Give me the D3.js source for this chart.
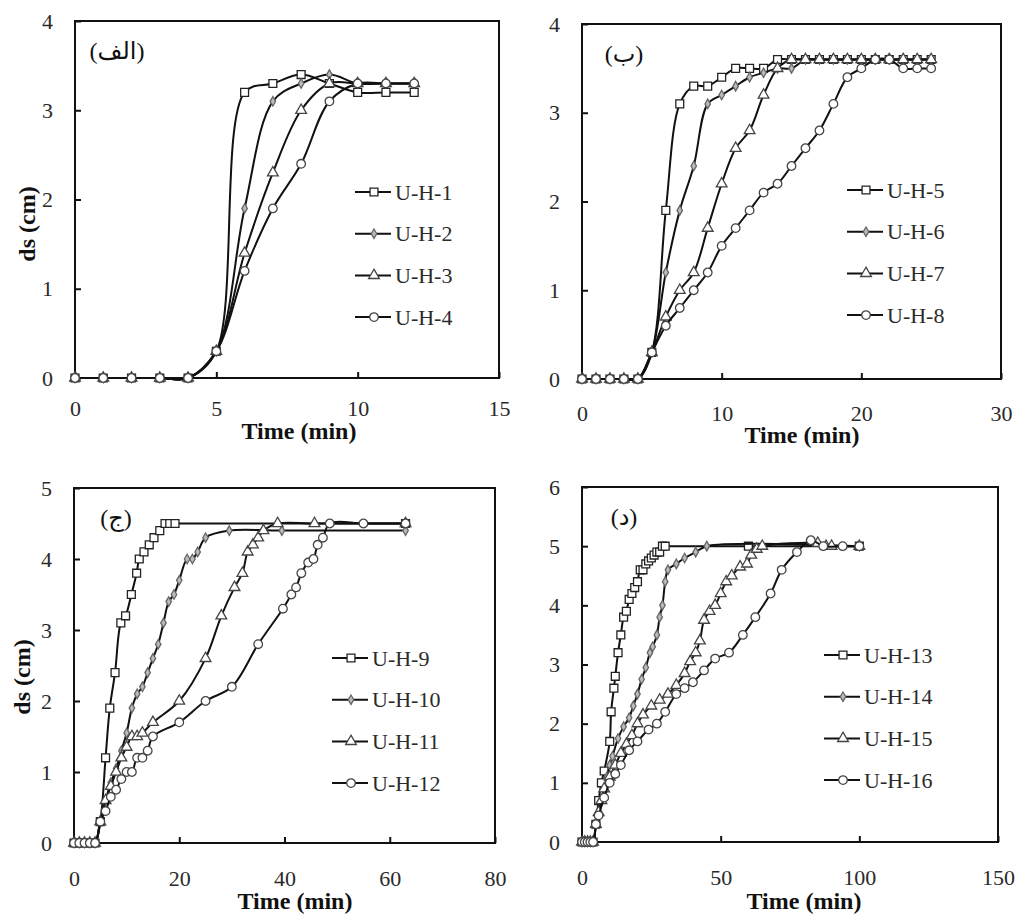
<!DOCTYPE html>
<html>
<head>
<meta charset="utf-8">
<script src="https://cdn.jsdelivr.net/npm/d3@7"></script>
<style>
  body { margin: 0; background: #fff; }
  svg { display: block; }
</style>
</head>
<body>
<svg id="chart" width="1019" height="915"></svg>
<script>
// ---- data ----
const panelLabels = ["(الف)", "(ب)", "(ج)", "(د)"];
const seriesNames = [
  ["U-H-1", "U-H-2", "U-H-3", "U-H-4"],
  ["U-H-5", "U-H-6", "U-H-7", "U-H-8"],
  ["U-H-9", "U-H-10", "U-H-11", "U-H-12"],
  ["U-H-13", "U-H-14", "U-H-15", "U-H-16"]
];
const xTicks = [[0, 5, 10, 15], [0, 10, 20, 30], [0, 20, 40, 60, 80], [0, 50, 100, 150]];
const yTicks = [[0, 1, 2, 3, 4], [0, 1, 2, 3, 4], [0, 1, 2, 3, 4, 5], [0, 1, 2, 3, 4, 5, 6]];

// panel (الف): time 0..12 min
const timeA = [0, 1, 2, 3, 4, 5, 6, 7, 8, 9, 10, 11, 12];
const uh1 = [0, 0, 0, 0, 0, 0.3, 3.2, 3.3, 3.4, 3.3, 3.2, 3.2, 3.2];
const uh2 = [0, 0, 0, 0, 0, 0.3, 1.9, 3.1, 3.3, 3.4, 3.3, 3.3, 3.3];
const uh3 = [0, 0, 0, 0, 0, 0.3, 1.4, 2.3, 3.0, 3.3, 3.3, 3.3, 3.3];
const uh4 = [0, 0, 0, 0, 0, 0.3, 1.2, 1.9, 2.4, 3.1, 3.3, 3.3, 3.3];

// panel (ب): time 0..25 min
const timeB = d3.range(0, 26);
const uh5 = [0, 0, 0, 0, 0, 0.3, 1.9, 3.1, 3.3, 3.3, 3.4, 3.5, 3.5, 3.5, 3.6, 3.6, 3.6, 3.6, 3.6, 3.6, 3.6, 3.6, 3.6, 3.6, 3.6, 3.6];
const uh6 = [0, 0, 0, 0, 0, 0.3, 1.2, 1.9, 2.4, 3.1, 3.2, 3.3, 3.4, 3.45, 3.5, 3.5, 3.6, 3.6, 3.6, 3.6, 3.6, 3.6, 3.6, 3.6, 3.6, 3.6];
const uh7 = [0, 0, 0, 0, 0, 0.3, 0.7, 1.0, 1.2, 1.7, 2.2, 2.6, 2.8, 3.2, 3.5, 3.6, 3.6, 3.6, 3.6, 3.6, 3.6, 3.6, 3.6, 3.6, 3.6, 3.6];
const uh8 = [0, 0, 0, 0, 0, 0.3, 0.6, 0.8, 1.0, 1.2, 1.5, 1.7, 1.9, 2.1, 2.2, 2.4, 2.6, 2.8, 3.1, 3.4, 3.5, 3.6, 3.6, 3.5, 3.5, 3.5];

// panel (ج): [time, ds]
const uh9 = [[0, 0], [1, 0], [2, 0], [3, 0], [4, 0], [5, 0.3], [6, 1.2], [6.8, 1.9], [7.8, 2.4], [8.9, 3.1], [9.8, 3.2],
  [10.9, 3.5], [11.9, 3.8], [12.4, 4.0], [13.3, 4.1], [14.3, 4.2], [15.2, 4.3], [16.3, 4.4], [17.3, 4.5], [18.2, 4.5], [19.2, 4.5], [63, 4.5]];
const uh10 = [[0, 0], [1, 0], [2, 0], [3, 0], [4, 0], [5, 0.3], [6, 0.6], [7, 0.85], [8, 1.05], [9, 1.3], [10, 1.55], [11, 1.9],
  [12, 2.1], [13, 2.2], [14, 2.4], [15, 2.6], [16, 2.8], [17, 3.1], [18, 3.4], [19, 3.5], [20, 3.7], [21.5, 4.0], [22.5, 4.0],
  [23.5, 4.1], [25, 4.3], [29.5, 4.4], [39.5, 4.4], [63, 4.4]];
const uh11 = [[0, 0], [1, 0], [2, 0], [3, 0], [4, 0], [5, 0.3], [6, 0.6], [7, 0.8], [8, 1.0], [9, 1.2], [10, 1.35], [11, 1.5],
  [12, 1.5], [13, 1.55], [15, 1.7], [20, 2.0], [25, 2.6], [28, 3.2], [30.5, 3.6], [32, 3.8], [33, 4.1], [34, 4.2], [35, 4.3],
  [36, 4.4], [38.7, 4.5], [45.7, 4.5], [63, 4.5]];
const uh12 = [[0, 0], [1, 0], [2, 0], [3, 0], [4, 0], [5, 0.3], [6, 0.45], [7, 0.65], [8, 0.75], [9, 0.9], [10, 1.0], [11, 1.0],
  [12, 1.2], [13, 1.2], [14, 1.3], [15, 1.5], [20, 1.7], [25, 2.0], [30, 2.2], [35, 2.8], [39.7, 3.3], [41.3, 3.5], [42.2, 3.6],
  [43.2, 3.8], [44.5, 3.95], [45.5, 4.0], [46.3, 4.2], [47.3, 4.3], [48.6, 4.5], [55, 4.5], [63, 4.5]];

// panel (د): [time, ds]
const uh13 = [[0, 0], [1, 0], [2, 0], [3, 0], [4, 0], [5, 0.3], [6, 0.7], [7, 1.0], [8, 1.2], [10, 1.7], [10.5, 2.2], [11.5, 2.6],
  [12, 2.8], [13, 3.2], [14, 3.5], [15, 3.8], [16, 3.9], [17, 4.1], [18, 4.2], [19, 4.3], [20, 4.4], [21, 4.6], [22, 4.6],
  [23, 4.7], [24, 4.75], [25, 4.8], [26, 4.85], [27, 4.9], [28, 4.9], [29, 5.0], [30, 5.0], [60, 5.0], [100, 5.0]];
const uh14 = [[0, 0], [1, 0], [2, 0], [3, 0], [4, 0], [5, 0.3], [6, 0.5], [7, 0.7], [8, 0.9], [9, 1.1], [10, 1.3], [11, 1.45],
  [13, 1.75], [15, 1.95], [17, 2.1], [18.5, 2.3], [20, 2.5], [21.5, 2.75], [23, 2.95], [24.5, 3.2], [25.5, 3.3], [27, 3.5],
  [28, 3.8], [29, 4.0], [30, 4.4], [31, 4.6], [34, 4.7], [37, 4.8], [41, 4.9], [45, 5.0], [100, 5.0]];
const uh15 = [[0, 0], [1, 0], [2, 0], [3, 0], [4, 0], [5, 0.3], [6, 0.5], [7, 0.7], [8, 0.9], [10, 1.1], [12, 1.3], [14, 1.5],
  [16, 1.65], [18, 1.8], [20, 2.0], [22, 2.15], [25, 2.3], [28, 2.4], [31, 2.5], [34, 2.65], [37, 2.85], [39, 3.05], [41, 3.2],
  [42.5, 3.4], [44, 3.75], [46, 3.9], [48, 4.0], [50, 4.2], [52, 4.4], [54, 4.5], [57, 4.65], [59.5, 4.7], [61, 4.85],
  [63, 4.95], [65, 5.0], [85, 5.05], [88, 5.0], [90, 5.0], [100, 5.0]];
const uh16 = [[0, 0], [1, 0], [2, 0], [3, 0], [4, 0], [5, 0.3], [6, 0.45], [8, 0.75], [10, 1.0], [12, 1.15], [14, 1.3], [17, 1.55],
  [20, 1.7], [24, 1.9], [27, 2.0], [30, 2.2], [34, 2.5], [37, 2.6], [40, 2.7], [44, 2.9], [48, 3.1], [53, 3.2], [58, 3.5],
  [62.5, 3.8], [68, 4.2], [72, 4.6], [77.5, 4.9], [82.5, 5.1], [87, 5.0], [94, 5.0], [100, 5.0]];

const zipT = (t, v) => t.map((d, i) => [d, v[i]]);
const panelSeries = [
  [zipT(timeA, uh1), zipT(timeA, uh2), zipT(timeA, uh3), zipT(timeA, uh4)],
  [zipT(timeB, uh5), zipT(timeB, uh6), zipT(timeB, uh7), zipT(timeB, uh8)],
  [uh9, uh10, uh11, uh12],
  [uh13, uh14, uh15, uh16]
];

// ---- layout ----
const layout = [
  { left: 75, right: 499, top: 21, bottom: 378, xPad: 22, yLab: [27, 224], tLab: [299, 431], leg: [355, 192] },
  { left: 582, right: 1001, top: 24, bottom: 379, xPad: 26, yLab: null, tLab: [802, 435], leg: [847, 190] },
  { left: 74, right: 495, top: 488, bottom: 843, xPad: 27, yLab: [22, 677], tLab: [295, 901], leg: [332, 658] },
  { left: 582, right: 998, top: 487, bottom: 842, xPad: 27, yLab: null, tLab: [804, 901], leg: [824, 655] }
];

const shapes = [d3.symbolSquare, d3.symbolDiamond, d3.symbolTriangle, d3.symbolCircle];
const shapeSize = [62, 26, 50, 58];
const shapeFill = ["#fff", "#bbb", "#fff", "#fff"];
const shapeStroke = ["#222", "#666", "#444", "#444"];
const serif = "'Liberation Serif', 'Times New Roman', serif";

const svg = d3.select("#chart");
svg.append("rect").attr("width", 1019).attr("height", 915).attr("fill", "#fff");

layout.forEach((L, p) => {
  const xMax = xTicks[p][xTicks[p].length - 1];
  const yMax = yTicks[p][yTicks[p].length - 1];
  const x = d3.scaleLinear().domain([0, xMax]).range([L.left, L.right]);
  const y = d3.scaleLinear().domain([0, yMax]).range([L.bottom, L.top]);
  const g = svg.append("g");

  // axes, ticks pointing inside
  const xa = g.append("g")
    .attr("transform", `translate(0,${L.bottom})`)
    .call(d3.axisBottom(x).tickValues(xTicks[p]).tickFormat(d3.format("d"))
      .tickSizeInner(-6).tickSizeOuter(0).tickPadding(L.xPad));
  const ya = g.append("g")
    .attr("transform", `translate(${L.left},0)`)
    .call(d3.axisLeft(y).tickValues(yTicks[p]).tickFormat(d3.format("d"))
      .tickSizeInner(-6).tickSizeOuter(0).tickPadding(22));
  [xa, ya].forEach(a => {
    a.select(".domain").remove();
    a.selectAll("line").attr("stroke", "#111").attr("stroke-width", 2);
    a.selectAll("text").attr("font-family", serif).attr("font-size", 22).attr("fill", "#2a2a2a");
  });

  // frame
  g.append("rect")
    .attr("x", L.left).attr("y", L.top)
    .attr("width", L.right - L.left).attr("height", L.bottom - L.top)
    .attr("fill", "none").attr("stroke", "#111").attr("stroke-width", 2);

  // series
  const line = d3.line().x(d => x(d[0])).y(d => y(d[1])).curve(d3.curveCatmullRom.alpha(0.5));
  panelSeries[p].forEach((data, s) => {
    g.append("path").datum(data)
      .attr("d", line)
      .attr("fill", "none").attr("stroke", "#111").attr("stroke-width", 2);
    g.selectAll(null).data(data).enter().append("path")
      .attr("d", d3.symbol(shapes[s], shapeSize[s]))
      .attr("transform", d => `translate(${x(d[0])},${y(d[1])})`)
      .attr("fill", shapeFill[s]).attr("stroke", shapeStroke[s]).attr("stroke-width", 1.3);
  });

  // legend
  const leg = g.append("g").attr("transform", `translate(${L.leg[0]},${L.leg[1]})`);
  seriesNames[p].forEach((name, s) => {
    const row = leg.append("g").attr("transform", `translate(0,${s * 41.7})`);
    row.append("line").attr("x1", 0).attr("x2", 36).attr("y1", 0).attr("y2", 0)
      .attr("stroke", "#111").attr("stroke-width", 2);
    row.append("path").attr("d", d3.symbol(shapes[s], shapeSize[s]))
      .attr("transform", "translate(19,0)")
      .attr("fill", shapeFill[s]).attr("stroke", shapeStroke[s]).attr("stroke-width", 1.3);
    row.append("text").attr("x", 40).attr("dy", "0.35em")
      .attr("font-family", serif).attr("font-size", 22).attr("fill", "#2a2a2a")
      .text(name);
  });

  // panel letter
  g.append("text")
    .attr("x", L.left + 42).attr("y", L.top + 30).attr("dy", "0.35em")
    .attr("text-anchor", "middle")
    .attr("font-family", "'Liberation Serif', 'DejaVu Sans', serif")
    .attr("font-size", 24).attr("fill", "#111")
    .text(panelLabels[p]);

  // axis titles
  g.append("text")
    .attr("x", L.tLab[0]).attr("y", L.tLab[1]).attr("dy", "0.35em")
    .attr("text-anchor", "middle")
    .attr("font-family", serif).attr("font-weight", "bold").attr("font-size", 24).attr("fill", "#111")
    .text("Time (min)");
  if (L.yLab) {
    g.append("text")
      .attr("transform", `translate(${L.yLab[0]},${L.yLab[1]}) rotate(-90)`)
      .attr("dy", "0.35em")
      .attr("text-anchor", "middle")
      .attr("font-family", serif).attr("font-weight", "bold").attr("font-size", 24).attr("fill", "#111")
      .text("ds (cm)");
  }
});
</script>
</body>
</html>
